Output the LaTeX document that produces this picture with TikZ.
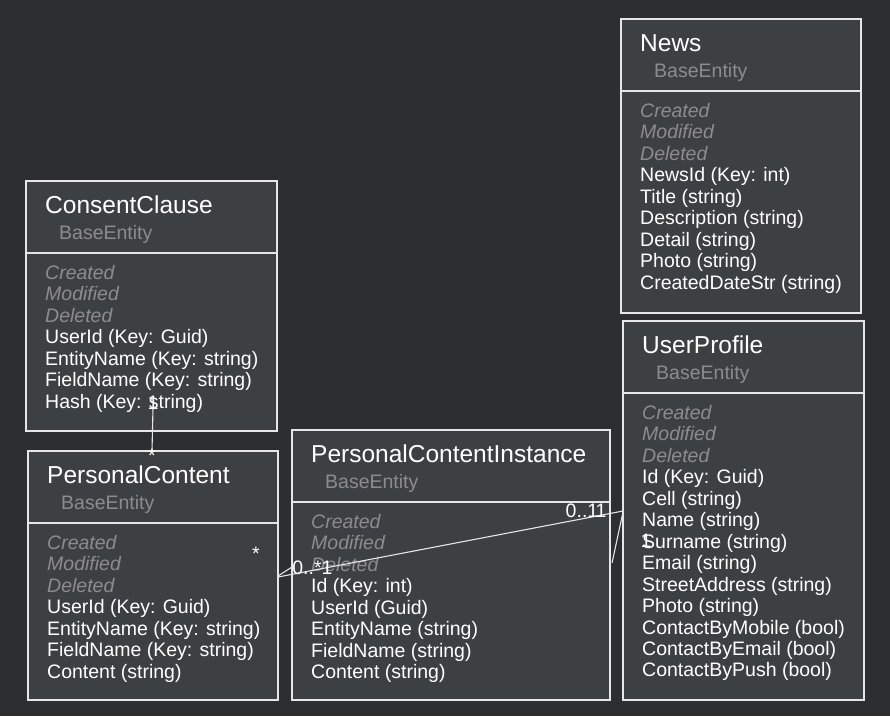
\documentclass[tikz,border=0pt]{standalone}
\usepackage{fontspec}
\setmainfont{Liberation Sans}
\usetikzlibrary{calc}
\definecolor{bgc}{HTML}{2D2E30}
\definecolor{boxc}{HTML}{3D4043}
\definecolor{linec}{HTML}{E6E6E6}
\definecolor{grayc}{HTML}{8C8C8C}
\newcommand{\titlefont}{\fontsize{24.5}{28}\selectfont}
\newcommand{\attrfont}{\fontsize{19.5}{21.5}\selectfont}
\begin{document}
\begin{tikzpicture}[x=1pt,y=-1pt,
  cls/.style={draw=linec, line width=1.3pt, fill=boxc, anchor=north west, inner sep=0pt, outer sep=0pt},
  ttl/.style={anchor=base west, text=white, font=\titlefont, inner sep=0pt},
  basecls/.style={anchor=base west, text=grayc, font=\attrfont, inner sep=0pt},
  attr/.style={anchor=base west, text=white, font=\attrfont, inner sep=0pt},
  inh/.style={anchor=base west, text=grayc, font=\attrfont\itshape, inner sep=0pt},
  sepline/.style={draw=linec, line width=1.3pt},
  conn/.style={draw=linec, line width=1.1pt},
  mult/.style={text=white, font=\attrfont, inner sep=0pt}
]
\fill[bgc] (0,0) rectangle (890,716);
\useasboundingbox (0,0) rectangle (890,716);

% boxes
\node[cls, minimum width=240pt, minimum height=294pt] (news) at (621,19) {};
\node[cls, minimum width=251pt, minimum height=250pt] (cc) at (26,181) {};
\node[cls, minimum width=250pt, minimum height=249pt] (pc) at (28,451) {};
\node[cls, minimum width=318pt, minimum height=270pt] (pci) at (292,430) {};
\node[cls, minimum width=241pt, minimum height=379pt] (up) at (623,321) {};

% separators, titles, base class, inherited members
\foreach \b/\t in {news/News, cc/ConsentClause, pc/PersonalContent, pci/PersonalContentInstance, up/UserProfile}{
  \draw[sepline] ($(\b.north west)+(0,72)$) -- ($(\b.north east)+(0,72)$);
  \node[ttl] (\b-title) at ($(\b.north west)+(19,32)$) {\t};
  \node[basecls] (\b-base) at ($(\b.north west)+(33,58)$) {BaseEntity};
  \foreach \m [count=\i from 0] in {Created, Modified, Deleted}{
    \node[inh] (\b-inh\i) at ($(\b.north west)+(19,{98.5+21.45*\i})$) {\m};
  }
}

% own members
\foreach \m [count=\i from 3] in {NewsId (Key: int), Title (string), Description (string), Detail (string), Photo (string), CreatedDateStr (string)}{
  \node[attr] (news-a\i) at ($(news.north west)+(19,{98.5+21.45*\i})$) {\m};
}
\foreach \m [count=\i from 3] in {UserId (Key: Guid), EntityName (Key: string), FieldName (Key: string), Hash (Key: string)}{
  \node[attr] (cc-a\i) at ($(cc.north west)+(19,{98.5+21.45*\i})$) {\m};
}
\foreach \m [count=\i from 3] in {UserId (Key: Guid), EntityName (Key: string), FieldName (Key: string), Content (string)}{
  \node[attr] (pc-a\i) at ($(pc.north west)+(19,{98.5+21.45*\i})$) {\m};
}
\foreach \m [count=\i from 3] in {Id (Key: int), UserId (Guid), EntityName (string), FieldName (string), Content (string)}{
  \node[attr] (pci-a\i) at ($(pci.north west)+(19,{98.5+21.45*\i})$) {\m};
}
\foreach \m [count=\i from 3] in {Id (Key: Guid), Cell (string), Name (string), Surname (string), Email (string), StreetAddress (string), Photo (string), ContactByMobile (bool), ContactByEmail (bool), ContactByPush (bool)}{
  \node[attr] (up-a\i) at ($(up.north west)+(19,{98.5+21.45*\i})$) {\m};
}

% connectors
\draw[conn] ($(cc.south west)+(127,-23)$) -- ($(pc.north west)+(124,0)$);
\draw[conn] ($(pc.north east)+(0,125)$) -- ($(pci.north west)+(0,137)$);
\draw[conn] ($(pc.north east)+(0,126)$) -- ($(up.north west)+(0,190)$);
\draw[conn] ($(pci.north east)+(2,133)$) -- ($(up.north west)+(0,191)$);

% multiplicities
\node[mult] (m1) at (153,403) {1};
\node[mult] (m2) at (152,456) {*};
\node[mult] (m3) at (256,554) {*};
\node[mult] (m4) at (307,568) {0..*};
\node[mult] (m5) at (327,568) {1};
\node[mult] (m6) at (582,511) {0..1};
\node[mult] (m7) at (601,511) {1};
\node[mult] (m8) at (646,541) {1};
\end{tikzpicture}
\end{document}
